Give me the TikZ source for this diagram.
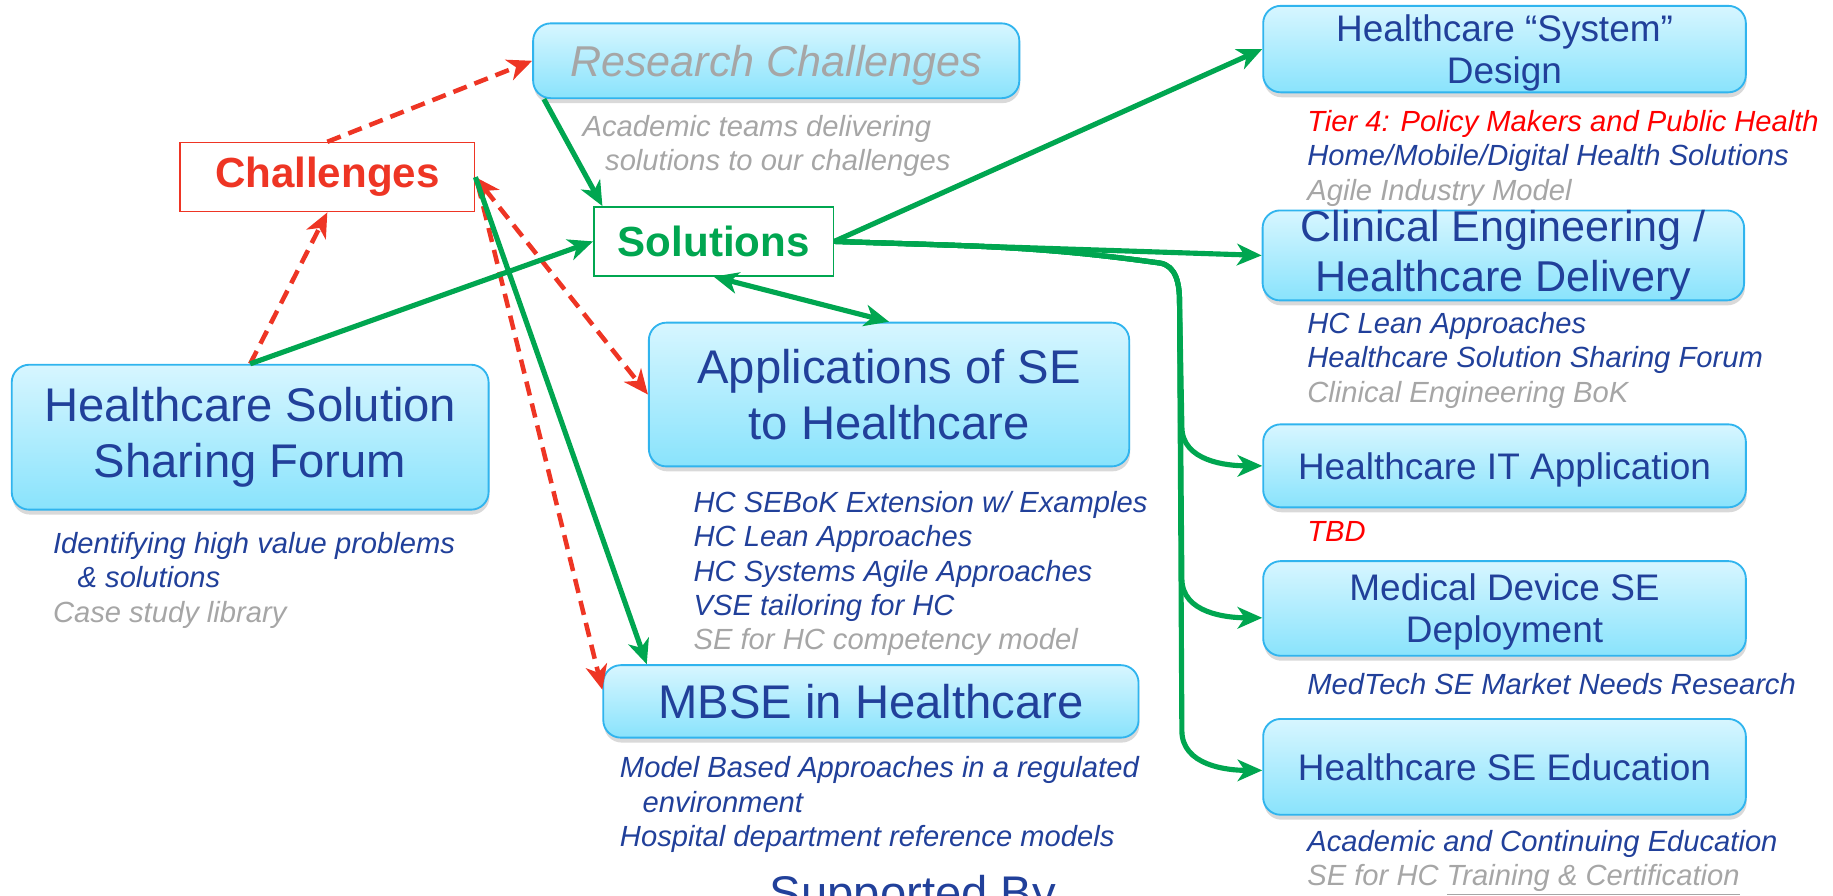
\documentclass[tikz,border=0pt]{standalone}
\usepackage{fontspec}
\setmainfont{Liberation Sans}
\usepackage{tikz}
\usetikzlibrary{shadows}
\usetikzlibrary{positioning}
\usetikzlibrary{arrows.meta,shapes}
\usetikzlibrary{calc}

\definecolor{hcblue}{HTML}{21409A}
\definecolor{hcgray}{HTML}{A6A6A6}
\definecolor{hcred}{HTML}{EE3524}
\definecolor{tierred}{HTML}{FF0000}
\definecolor{hcgreen}{HTML}{00A650}
\definecolor{boxtop}{HTML}{D7F6FF}
\definecolor{boxbot}{HTML}{89E3FC}
\definecolor{boxline}{HTML}{30B4EE}

\newcommand{\bigfont}{\fontsize{23}{27.2}\selectfont}
\newcommand{\midfont}{\fontsize{18}{20.5}\selectfont}
\newcommand{\notefont}{\fontsize{14.2}{16.7}\selectfont\itshape}

\tikzset{
  hcbox/.style={rounded corners=0.3cm, draw=boxline, line width=0.9pt,
    top color=boxtop, bottom color=boxbot, text=hcblue, align=center, inner sep=0pt,
    drop shadow={shadow xshift=0.4pt, shadow yshift=-2.4pt, opacity=0.3}},
  keybox/.style={draw, fill=white, line width=0.8pt, minimum height=1.18cm,
    inner sep=0pt, font=\fontsize{20.5}{24}\selectfont\bfseries},
  hcnote/.style={anchor=north west, align=left, inner sep=0pt, text=hcblue, font=\notefont},
  grnline/.style={draw=hcgreen, line width=2.5pt},
  redline/.style={draw=hcred, line width=2.2pt, dash pattern=on 7pt off 4pt}
}

\begin{document}
\begin{tikzpicture}[x=0.02cm, y=0.02cm, >={Stealth[length=12pt, width=10.5pt, inset=3.5pt]}]

  \useasboundingbox (0,0) rectangle (1568,-766);

  %challenges and solutions
  \node[keybox, draw=hcred, text=hcred, minimum width=5.04cm] (chall) at (280,-151.5) {Challenges};
  \node[keybox, draw=hcgreen, text=hcgreen, minimum width=4.1cm] (sol) at (610.5,-206.5) {Solutions};

  %left and middle boxes
  \node[hcbox, font=\bigfont, minimum width=8.16cm, minimum height=2.48cm] (hssf) at (214,-374) {Healthcare Solution\\Sharing Forum};
  \node[hcbox, text=hcgray, font=\fontsize{21}{24}\selectfont\itshape, text depth=0pt, minimum width=8.32cm, minimum height=1.28cm] (research) at (664,-52) {Research Challenges};
  \node[hcbox, font=\bigfont, minimum width=8.22cm, minimum height=2.46cm] (appl) at (760.5,-337.5) {Applications of SE\\to Healthcare};
  \node[hcbox, font=\bigfont, minimum width=9.16cm, minimum height=1.24cm] (mbse) at (745,-600) {MBSE in Healthcare};

  %right column
  \foreach \y/\h/\txt/\name in {42/1.48/{Healthcare “System”\\Design}/hsd, 398.5/1.42/{Healthcare IT Application}/hcit, 520.5/1.62/{Medical Device SE\\Deployment}/meddev, 656/1.64/{Healthcare SE Education}/hcedu}{
    \node[hcbox, font=\midfont, text depth=0pt, minimum width=8.26cm, minimum height=\h cm] (\name) at (1287,-\y) {\txt};
  }
  \node[hcbox, font=\fontsize{21}{24}\selectfont, minimum width=8.24cm, minimum height=1.54cm] (clin) at (1286,-218.5) {Clinical Engineering /\\Healthcare Delivery};

  %notes
  \node[hcnote, text=hcgray] (resnote) at (498,-98) {Academic teams delivering\\\hspace*{11pt}solutions to our challenges};
  \node[hcnote] (hssfnote) at (45,-455) {Identifying high value problems\\\hspace*{12pt}\& solutions\\{\color{hcgray}Case study library}};
  \node[hcnote] (applnote) at (593,-420) {HC SEBoK Extension w/ Examples\\HC Lean Approaches\\HC Systems Agile Approaches\\VSE tailoring for HC\\{\color{hcgray}SE for HC competency model}};
  \node[hcnote] (mbsenote) at (530,-647) {Model Based Approaches in a regulated\\\hspace*{11pt}environment\\Hospital department reference models};
  \node[hcnote] (hsdnote) at (1118,-94) {{\color{tierred}Tier 4: Policy Makers and Public Health}\\Home/Mobile/Digital Health Solutions\\{\color{hcgray}Agile Industry Model}};
  \node[hcnote] (clinnote) at (1118,-267) {HC Lean Approaches\\Healthcare Solution Sharing Forum\\{\color{hcgray}Clinical Engineering BoK}};
  \node[hcnote, text=tierred] (hcitnote) at (1118,-446) {TBD};
  \node[hcnote] (meddevnote) at (1118,-576) {MedTech SE Market Needs Research};
  \node[hcnote] (hcedunote) at (1118,-710) {Academic and Continuing Education\\{\color{hcgray}SE for HC \underline{Training \& Certification}}};

  \node[anchor=north, inner sep=0pt, text=hcblue, font=\bigfont] (supp) at (781,-748) {Supported By};

  %red links
  \draw[redline,->] (chall.north) -- (research.west);
  \draw[redline,->] (hssf.north) -- (chall.south);
  \draw[redline,<->] (chall.east) -- (appl.west);
  \draw[redline,->] ($(chall.east)+(2,-6)$) -- ($(mbse.west)+(0,10)$);

  %green links
  \draw[grnline,->] (hssf.north) -- (sol.west);
  \draw[grnline,->] ($(research.south west)+(10,0)$) -- ($(sol.north west)+(8,0)$);
  \draw[grnline,->] (chall.east) -- ($(mbse.north west)+(38,0)$);
  \draw[grnline,<->] (sol.south) -- (appl.north);
  \draw[grnline,->] (sol.east) -- (hsd.west);
  \draw[grnline,->] (sol.east) -- (clin.west);

  \coordinate (trk) at (1009,-258);
  \foreach \name/\dy/\yy in {hcit/0/365, meddev/-8/495, hcedu/-3/625}{
    \draw[grnline,->] (sol.east) to[out=-2,in=172] (992,-225) to[out=-8,in=90] (trk) -- (1011,-\yy) to[out=-90,in=180] ($(\name.west)+(0,\dy)$);
  }

\end{tikzpicture}
\end{document}
